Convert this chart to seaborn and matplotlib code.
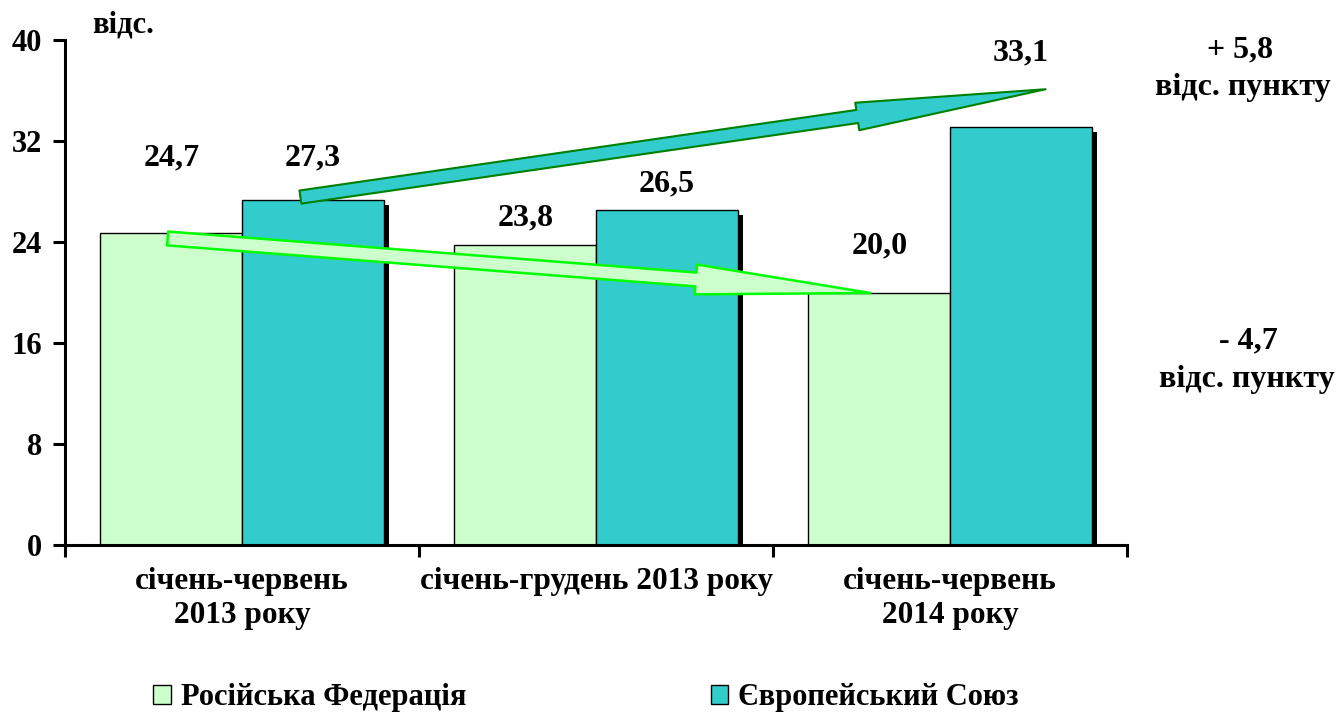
import matplotlib
matplotlib.use('Agg')
import matplotlib.pyplot as plt
import matplotlib.patches as mpatches
import matplotlib.patheffects as pe
import seaborn as sns
import pandas as pd

# ---------------- data ----------------
categories = ['січень-червень\n2013 року', 'січень-грудень 2013 року', 'січень-червень\n2014 року']
series_names = ['Російська Федерація', 'Європейський Союз']
rf_values = [24.7, 23.8, 20.0]
eu_values = [27.3, 26.5, 33.1]
rf_labels = ['24,7', '23,8', '20,0']
eu_labels = ['27,3', '26,5', '33,1']
y_ticks = [0, 8, 16, 24, 32, 40]
unit_label = 'відс.'
change_values = ['+ 5,8', '- 4,7']
change_unit = 'відс. пункту'
colors = ['#CCFFCC', '#33CCCC']

# ---------------- layout ----------------
rf_label_y = [30.7, 25.9, 23.7]
eu_label_y = [30.7, 28.6, 39.0]

sns.set_style('ticks')
plt.rcParams['font.family'] = ['Liberation Serif', 'DejaVu Serif']
plt.rcParams['font.weight'] = 'bold'
for k in ['text.color', 'axes.labelcolor', 'xtick.color', 'ytick.color', 'axes.edgecolor']:
    plt.rcParams[k] = 'black'

df = pd.DataFrame({
    'period': categories * 2,
    'series': [series_names[0]] * 3 + [series_names[1]] * 3,
    'value': rf_values + eu_values,
})

W, H = 1338, 715
fig = plt.figure(figsize=(W / 100, H / 100), dpi=100)
ax = fig.add_axes([65 / W, 1 - 545 / H, (1127 - 65) / W, (545 - 40) / H])

sns.barplot(data=df, x='period', y='value', hue='series', order=categories,
            hue_order=series_names, palette=colors, saturation=1, width=0.8,
            edgecolor='black', linewidth=1.0, errorbar=None, legend=False, ax=ax)

for p in ax.patches:
    p.set_path_effects([pe.SimplePatchShadow(offset=(3.8, -3.4), shadow_rgbFace='black', alpha=1.0),
                        pe.Normal()])

ax.set_xlim(-0.5, 2.5)
ax.set_ylim(0, 40)
ax.set_yticks(y_ticks)
ax.set_yticklabels([str(t) for t in y_ticks], fontsize=22, fontweight='bold', color='black')
ax.set_xticks([-0.5, 0.5, 1.5, 2.5])
ax.set_xticklabels([])
ax.set_xticks(range(len(categories)), minor=True)
ax.set_xticklabels(categories, minor=True, fontsize=22.5, fontweight='bold', linespacing=1.2,
                   color='black')
ax.tick_params(axis='both', which='major', length=8.5, width=2.2, direction='out', color='black')
ax.tick_params(axis='y', pad=8)
ax.tick_params(axis='x', which='minor', length=0, pad=16)
for s in ['top', 'right']:
    ax.spines[s].set_visible(False)
for s in ['left', 'bottom']:
    ax.spines[s].set_linewidth(2.2)
    ax.spines[s].set_color('black')
ax.set_xlabel('')
ax.set_ylabel('')

# value labels
for cont, labels, ys in [(ax.containers[0], rf_labels, rf_label_y), (ax.containers[1], eu_labels, eu_label_y)]:
    for bar, lab, y in zip(cont.patches, labels, ys):
        ax.text(bar.get_x() + bar.get_width() / 2, y, lab, ha='center', va='center',
                fontsize=23, fontweight='bold', color='black', clip_on=False)

# trend arrows
ax.annotate('', xy=(2.27, 36.1), xytext=(0.165, 27.56), annotation_clip=False,
            arrowprops=dict(arrowstyle='simple,head_length=137,head_width=20,tail_width=9.5',
                            mutation_scale=1, fc='#33CCCC', ec='#008000', lw=1.5,
                            shrinkA=0, shrinkB=0))
ax.annotate('', xy=(1.775, 19.96), xytext=(-0.21, 24.28), annotation_clip=False,
            arrowprops=dict(arrowstyle='simple,head_length=126,head_width=21.5,tail_width=10',
                            mutation_scale=1, fc='#CCFFCC', ec='#00FF00', lw=1.8,
                            shrinkA=0, shrinkB=0))

# texts
fig.text(92 / W, 1 - 25 / H, unit_label, ha='left', va='center', fontsize=22, fontweight='bold')
fig.text(1240 / W, 1 - 50 / H, change_values[0], ha='center', va='center', fontsize=23, fontweight='bold')
fig.text(1243 / W, 1 - 88 / H, change_unit, ha='center', va='center', fontsize=23, fontweight='bold')
fig.text(1248 / W, 1 - 341 / H, change_values[1], ha='center', va='center', fontsize=23, fontweight='bold')
fig.text(1247 / W, 1 - 380 / H, change_unit, ha='center', va='center', fontsize=23, fontweight='bold')

# legend
handles = [mpatches.Patch(facecolor=c, edgecolor='black', linewidth=1.0) for c in colors]
fig.legend(handles, series_names, loc='center', bbox_to_anchor=(586 / W, 1 - 698 / H), ncol=2,
           frameon=False, prop={'weight': 'bold', 'size': 22}, handlelength=0.58, handleheight=0.58,
           handletextpad=0.33, columnspacing=8.0, labelcolor='black')

fig.savefig('out.png', dpi=100)
